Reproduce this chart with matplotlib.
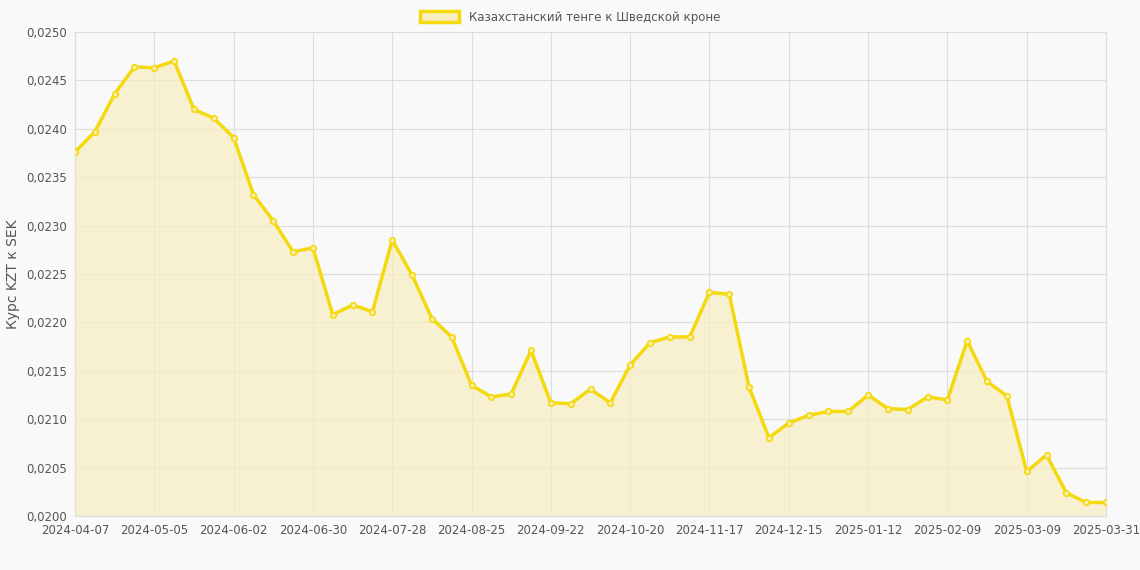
import matplotlib.pyplot as plt
from matplotlib.patches import Patch

tick_labels = ['2024-04-07', '2024-05-05', '2024-06-02', '2024-06-30', '2024-07-28',
               '2024-08-25', '2024-09-22', '2024-10-20', '2024-11-17', '2024-12-15',
               '2025-01-12', '2025-02-09', '2025-03-09', '2025-03-31']
tick_pos = [0, 4, 8, 12, 16, 20, 24, 28, 32, 36, 40, 44, 48, 52]

rates = [0.02376, 0.02397, 0.02436, 0.02464, 0.02463, 0.02470, 0.02420, 0.02411,
         0.02391, 0.02332, 0.02305, 0.02273, 0.02277, 0.02208, 0.02218, 0.02211,
         0.02285, 0.02249, 0.02204, 0.02185, 0.02135, 0.02123, 0.02126, 0.02171,
         0.02117, 0.02116, 0.02131, 0.02117, 0.02156, 0.02179, 0.02185, 0.02185,
         0.02231, 0.02229, 0.02133, 0.02081, 0.02096, 0.02104, 0.02108, 0.02108,
         0.02125, 0.02111, 0.02110, 0.02123, 0.02120, 0.02181, 0.02139, 0.02124,
         0.02046, 0.02063, 0.02024, 0.02014, 0.02014]
x = list(range(len(rates)))

line_color = '#F5D90F'
bg = '#F9F9F9'

fig = plt.figure(figsize=(11.4, 5.7), dpi=100, facecolor=bg)
ax = fig.add_axes([75/1140, 54/570, 1031/1140, 484/570], facecolor=bg)

ax.fill_between(x, rates, 0.02, color='#F8EFC0', alpha=0.7, zorder=1)
ax.plot(x, rates, color=line_color, lw=2.5, marker='o', ms=4,
        mfc='#F8EFB0', mec=line_color, mew=1.2, zorder=3)

ax.set_xlim(0, 52)
ax.set_ylim(0.02, 0.025)
ax.set_yticks([0.02 + 0.0005 * i for i in range(11)])
ax.set_yticklabels([f'{0.02 + 0.0005 * i:.4f}'.replace('.', ',') for i in range(11)])
ax.set_xticks(tick_pos)
ax.set_xticklabels(tick_labels)
ax.tick_params(labelsize=8.5, colors='#555555', length=0, pad=6)
ax.set_ylabel('Курс KZT к SEK', fontsize=10, color='#555555')

for v in tick_pos:
    ax.axvline(v, color='#dddddd', lw=0.8, zorder=0)
for v in ax.get_yticks():
    ax.axhline(v, color='#dddddd', lw=0.8, zorder=0)
for s in ax.spines.values():
    s.set_color('#dddddd')

leg = fig.legend(handles=[Patch(facecolor='#F8EFC0', edgecolor=line_color, lw=2.5,
                                label='Казахстанский тенге к Шведской кроне')],
                 loc='upper center', bbox_to_anchor=(0.5, 1.0), frameon=False,
                 fontsize=8.5, handlelength=3.3, handleheight=1.0)
for t in leg.get_texts():
    t.set_color('#555555')

fig.savefig('out.png', dpi=100, facecolor=bg)
